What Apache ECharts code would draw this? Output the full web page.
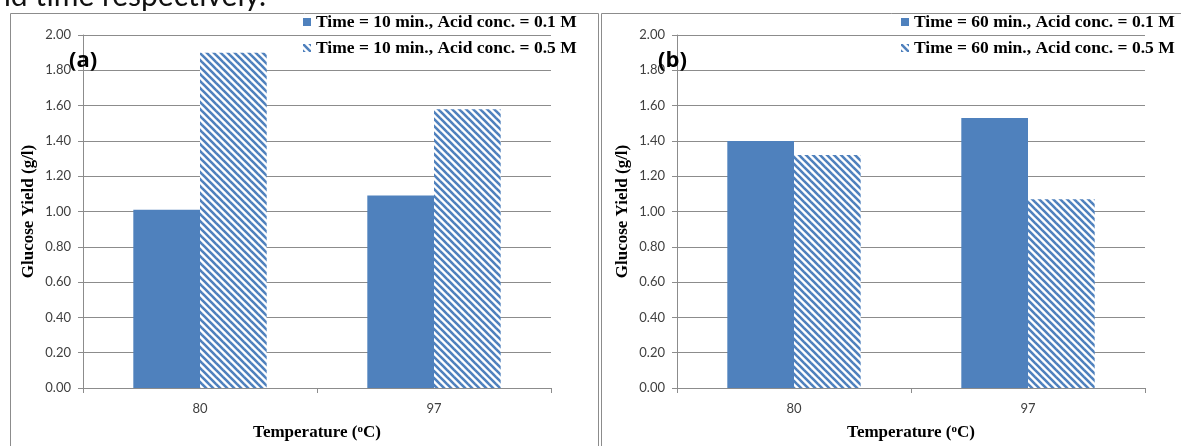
<!DOCTYPE html>
<html>
<head>
<meta charset="utf-8">
<title>Glucose Yield vs Temperature</title>
<script src="https://cdn.jsdelivr.net/npm/echarts@6/dist/echarts.min.js"></script>
<style>
  html, body { margin: 0; padding: 0; background: #ffffff; }
  #chart { width: 1181px; height: 446px; }
</style>
</head>
<body>
<div id="chart"></div>
<script>
// Temperatures (°C) on the category axis
const categories = ['80', '97'];

// Panel (a): 10 min hydrolysis
const seriesNamesA = ['Time = 10 min., Acid conc. = 0.1 M', 'Time = 10 min., Acid conc. = 0.5 M'];
const yieldA_01M = [1.01, 1.09];
const yieldA_05M = [1.90, 1.58];

// Panel (b): 60 min hydrolysis
const seriesNamesB = ['Time = 60 min., Acid conc. = 0.1 M', 'Time = 60 min., Acid conc. = 0.5 M'];
const yieldB_01M = [1.40, 1.53];
const yieldB_05M = [1.32, 1.07];

// Glucose yield axis (g/l)
const yMin = 0, yMax = 2, yStep = 0.2;

const BLUE = '#4f81bd';
const GRID_GRAY = '#8c8c8c';
const LABEL_GRAY = '#404040';
const SERIF = '"Liberation Serif", "Times New Roman", serif';
const SANS = 'Lato, "Open Sans", sans-serif';

// Diagonal stripe fill for the 0.5 M bars
function makeHatch() {
  const n = 7;
  const c = document.createElement('canvas');
  c.width = n; c.height = n;
  const ctx = c.getContext('2d');
  ctx.fillStyle = '#ffffff';
  ctx.fillRect(0, 0, n, n);
  ctx.strokeStyle = BLUE;
  ctx.lineWidth = 2.6;
  for (const off of [-n, 0, n]) {
    ctx.beginPath();
    ctx.moveTo(-1, -1 + off);
    ctx.lineTo(n + 1, n + 1 + off);
    ctx.stroke();
  }
  return c;
}
const hatch = { image: makeHatch(), repeat: 'repeat' };

const chart = echarts.init(document.getElementById('chart'), null, { renderer: 'canvas' });

function xAxisFor(gridIndex) {
  return {
    type: 'category',
    gridIndex,
    data: categories,
    boundaryGap: true,
    axisLine: { show: true, lineStyle: { color: GRID_GRAY, width: 1 } },
    axisTick: { show: true, alignWithLabel: false, length: 5, lineStyle: { color: GRID_GRAY } },
    axisLabel: { color: LABEL_GRAY, fontFamily: SANS, fontSize: 13, margin: 14 },
    name: '{t|Temperature (}{s|o}{t|C)}',
    nameLocation: 'middle',
    nameGap: 36,
    nameTextStyle: {
      rich: {
        t: { fontFamily: SERIF, fontWeight: 'bold', fontSize: 17, color: '#000' },
        s: { fontFamily: SERIF, fontWeight: 'bold', fontSize: 11, color: '#000', verticalAlign: 'top' }
      }
    }
  };
}

function yAxisFor(gridIndex) {
  return {
    type: 'value',
    gridIndex,
    min: yMin,
    max: yMax,
    interval: yStep,
    axisLine: { show: true, lineStyle: { color: GRID_GRAY, width: 1 } },
    axisTick: { show: true, length: 5, lineStyle: { color: GRID_GRAY } },
    axisLabel: {
      color: LABEL_GRAY, fontFamily: SANS, fontSize: 13, margin: 12,
      formatter: v => v.toFixed(2)
    },
    splitLine: { show: true, lineStyle: { color: GRID_GRAY, width: 1 } },
    name: 'Glucose Yield (g/l)',
    nameLocation: 'middle',
    nameGap: 46,
    nameTextStyle: { fontFamily: SERIF, fontWeight: 'bold', fontSize: 17, color: '#000' }
  };
}

function barSeries(name, data, idx, fill) {
  return {
    name,
    type: 'bar',
    xAxisIndex: idx,
    yAxisIndex: idx,
    data,
    barGap: '0%',
    barCategoryGap: '43%',
    itemStyle: { color: fill },
    emphasis: { disabled: true },
    animation: false
  };
}

function legendFor(names, left) {
  return {
    data: names,
    orient: 'vertical',
    left,
    top: 8,
    itemWidth: 8,
    itemHeight: 8,
    itemGap: 8,
    icon: 'rect',
    selectedMode: false,
    textStyle: { fontFamily: SERIF, fontWeight: 'bold', fontSize: 17.5, color: '#000', lineHeight: 18 }
  };
}

chart.setOption({
  animation: false,
  backgroundColor: '#ffffff',
  grid: [
    { left: 83, top: 35, width: 468, height: 353 },
    { left: 677, top: 35, width: 468, height: 353 }
  ],
  xAxis: [xAxisFor(0), xAxisFor(1)],
  yAxis: [yAxisFor(0), yAxisFor(1)],
  legend: [legendFor(seriesNamesA, 298), legendFor(seriesNamesB, 896)],
  series: [
    barSeries(seriesNamesA[0], yieldA_01M, 0, BLUE),
    barSeries(seriesNamesA[1], yieldA_05M, 0, hatch),
    barSeries(seriesNamesB[0], yieldB_01M, 1, BLUE),
    barSeries(seriesNamesB[1], yieldB_05M, 1, hatch)
  ],
  graphic: [
    // caption text running above the figure
    { type: 'text', left: -6, top: -19, z: 10,
      style: { text: 'nd time respectively.', fontFamily: SANS, fontSize: 30, fill: '#111' } },
    // chart frames
    { type: 'rect', z: -1, shape: { x: 10.5, y: 13.5, width: 588, height: 450 },
      style: { fill: 'none', stroke: '#8c8c8c', lineWidth: 1 } },
    { type: 'rect', z: -1, shape: { x: 601.5, y: 13.5, width: 600, height: 450 },
      style: { fill: 'none', stroke: '#8c8c8c', lineWidth: 1 } },
    // panel tags
    { type: 'text', left: 69, top: 50, z: 10,
      style: { text: '(a)', fontFamily: '"Open Sans", Lato, sans-serif', fontWeight: 'bold', fontSize: 22, fill: '#000' } },
    { type: 'text', left: 658, top: 50, z: 10,
      style: { text: '(b)', fontFamily: '"Open Sans", Lato, sans-serif', fontWeight: 'bold', fontSize: 22, fill: '#000' } }
  ]
});
</script>
</body>
</html>
